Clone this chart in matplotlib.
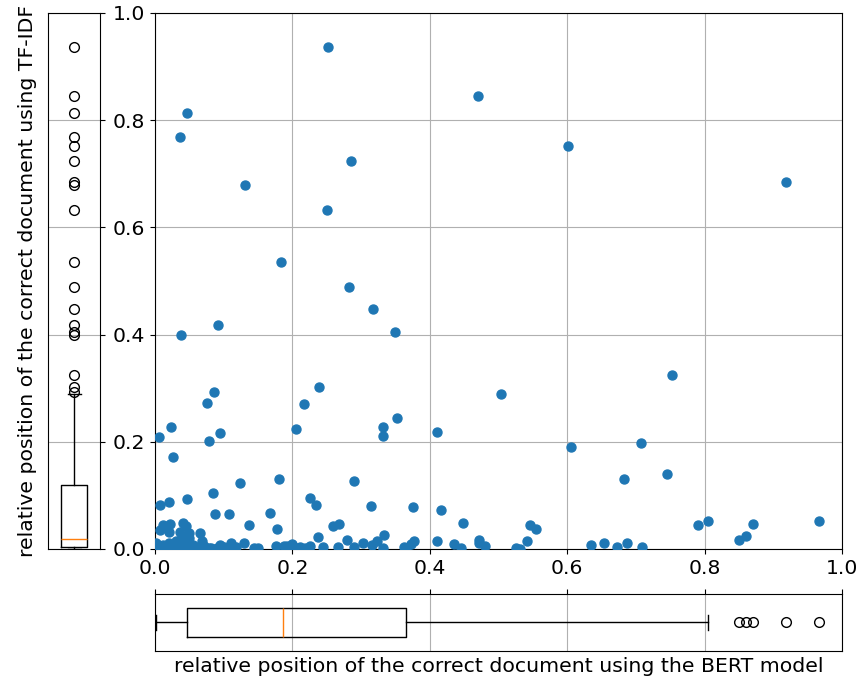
import matplotlib.pyplot as plt
import numpy as np

# relative positions (BERT on x, TF-IDF on y)
bert_pos = [
    0.252, 0.470, 0.046, 0.037, 0.601, 0.285, 0.131, 0.918, 0.250, 0.184,
    0.282, 0.318, 0.092, 0.350, 0.038, 0.752, 0.239, 0.086, 0.503, 0.076,
    0.217, 0.353, 0.023, 0.332, 0.206, 0.410, 0.094, 0.332, 0.006, 0.079,
    0.707, 0.606, 0.026, 0.746, 0.181, 0.683, 0.289, 0.124,
    0.008, 0.020, 0.047, 0.084, 0.088, 0.108, 0.167, 0.225, 0.234, 0.315,
    0.376, 0.416, 0.448, 0.137, 0.178, 0.259, 0.268, 0.546, 0.554, 0.790,
    0.805, 0.870, 0.967, 0.012, 0.022, 0.041, 0.045, 0.007,
    0.021, 0.037, 0.050, 0.065, 0.333, 0.861, 0.238, 0.050, 0.040,
    0.036, 0.068, 0.002, 0.111, 0.130, 0.279, 0.303, 0.323, 0.316, 0.332,
    0.267, 0.144, 0.176, 0.188, 0.200, 0.211, 0.226, 0.377, 0.373, 0.366,
    0.410, 0.435, 0.472, 0.471, 0.481, 0.526, 0.531, 0.541, 0.634, 0.653,
    0.672, 0.687, 0.709, 0.850,
    0.004, 0.016, 0.028, 0.040, 0.053, 0.060, 0.082, 0.091, 0.101, 0.113,
    0.001, 0.003, 0.005, 0.009, 0.012, 0.014, 0.018, 0.021, 0.024, 0.027,
    0.030, 0.033, 0.035, 0.038, 0.043, 0.045,
    0.055, 0.062, 0.072, 0.078, 0.095, 0.118, 0.150, 0.192,
    0.195, 0.218, 0.245, 0.290, 0.205, 0.362, 0.445,
]
tfidf_pos = [
    0.937, 0.846, 0.814, 0.769, 0.752, 0.724, 0.680, 0.685, 0.633, 0.535,
    0.489, 0.447, 0.418, 0.404, 0.400, 0.325, 0.303, 0.292, 0.289, 0.273,
    0.271, 0.244, 0.227, 0.227, 0.223, 0.218, 0.216, 0.211, 0.209, 0.202,
    0.197, 0.190, 0.172, 0.140, 0.131, 0.130, 0.127, 0.124,
    0.083, 0.088, 0.094, 0.104, 0.066, 0.066, 0.068, 0.095, 0.082, 0.080,
    0.078, 0.072, 0.049, 0.044, 0.037, 0.042, 0.047, 0.044, 0.037, 0.044,
    0.052, 0.047, 0.052, 0.045, 0.047, 0.049, 0.042, 0.035,
    0.032, 0.032, 0.029, 0.029, 0.027, 0.025, 0.022, 0.020, 0.022,
    0.015, 0.014, 0.011, 0.012, 0.012, 0.016, 0.011, 0.014, 0.007, 0.001,
    0.003, 0.001, 0.005, 0.006, 0.010, 0.004, 0.006, 0.015, 0.009, 0.001,
    0.015, 0.009, 0.016, 0.011, 0.006, 0.002, 0.000, 0.014, 0.007, 0.011,
    0.003, 0.011, 0.003, 0.016,
    0.002, 0.003, 0.001, 0.004, 0.002, 0.003, 0.001, 0.002, 0.003, 0.002,
    0.001, 0.006, 0.000, 0.003, 0.008, 0.001, 0.004, 0.012, 0.002, 0.007,
    0.015, 0.001, 0.005, 0.009, 0.003, 0.012,
    0.007, 0.002, 0.005, 0.001, 0.008, 0.004, 0.002, 0.006,
    0.002, 0.001, 0.004, 0.003, 0.002, 0.003, 0.001,
]
ticks = [0.0, 0.2, 0.4, 0.6, 0.8, 1.0]
fs = 14.7

x = np.array(bert_pos)
y = np.array(tfidf_pos)

fig = plt.figure(figsize=(8.6, 6.83), dpi=100)
ax = fig.add_axes([0.1802, 0.1962, 0.7988, 0.7848])
ax_by = fig.add_axes([0.0562, 0.1962, 0.0605, 0.7848], sharey=ax)
ax_bx = fig.add_axes([0.1802, 0.0469, 0.7988, 0.0835], sharex=ax)

ax.scatter(x, y, s=42, color='#1f77b4', zorder=3)
ax.set_xlim(0, 1)
ax.set_ylim(0, 1)
ax.set_xticks(ticks)
ax.set_yticks(ticks)
ax.tick_params(labelsize=fs)
ax.grid(True)

flier = dict(markersize=7)
ax_by.boxplot(y, widths=0.5, flierprops=flier)
ax_by.grid(True, axis='y')
ax_by.tick_params(axis='y', left=False, right=True, labelleft=False)
ax_by.set_xticks([])
ax_by.set_ylabel('relative position of the correct document using TF-IDF',
                 fontsize=fs, labelpad=8)

ax_bx.boxplot(x, orientation='horizontal', widths=0.5, flierprops=flier)
ax_bx.grid(True, axis='x')
ax_bx.tick_params(axis='x', bottom=False, top=True, labelbottom=False)
ax_bx.set_yticks([])
ax_bx.set_xlabel('relative position of the correct document using the BERT model',
                 fontsize=fs)

fig.savefig('out.png', dpi=100)
